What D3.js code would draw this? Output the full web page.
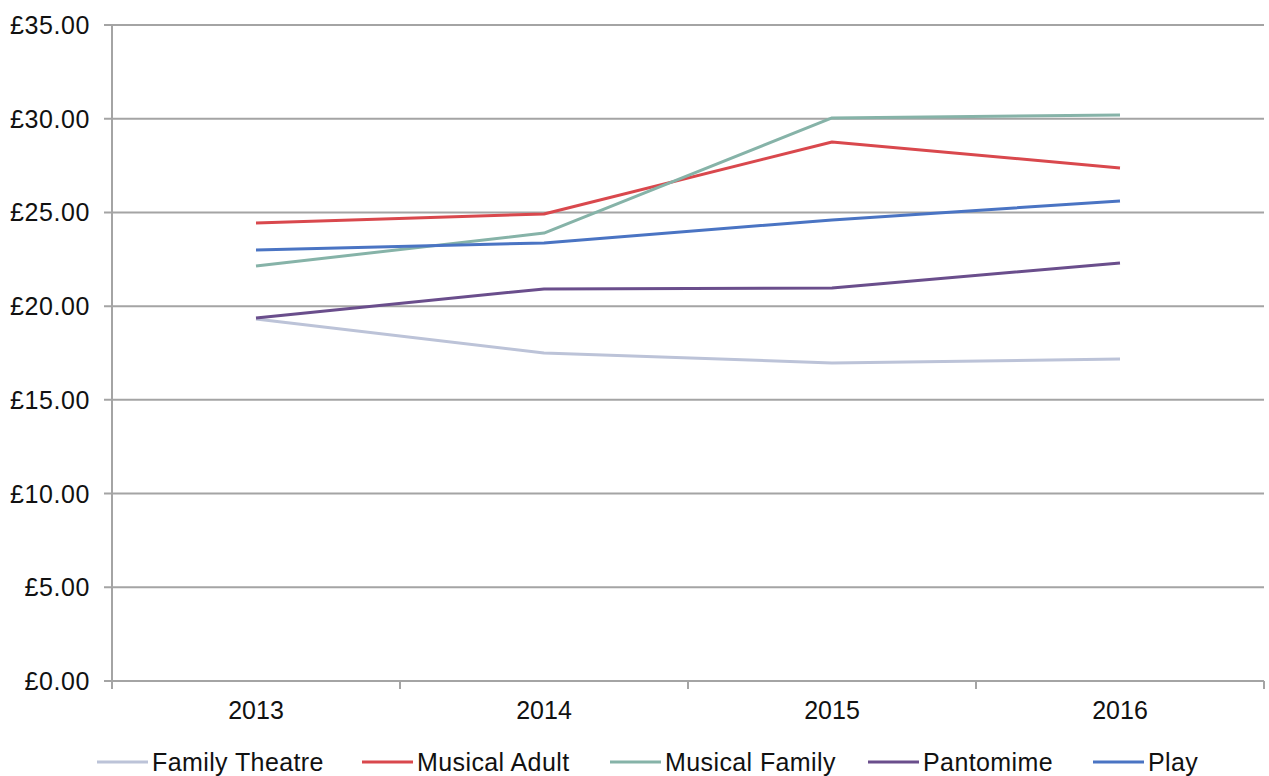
<!DOCTYPE html>
<html><head><meta charset="utf-8">
<script src="https://cdn.jsdelivr.net/npm/d3@7"></script>
<style>body{margin:0;background:#fff}svg{display:block}text{font-family:"Liberation Sans",Arial,sans-serif;fill:#111}</style>
</head><body><svg id="c" width="1269" height="776"></svg>
<script>
const years = ["2013","2014","2015","2016"];
const seriesNames = ["Family Theatre","Musical Adult","Musical Family","Pantomime","Play"];
const familyTheatre = [19.32, 17.5, 16.97, 17.18];
const musicalAdult = [24.44, 24.92, 28.76, 27.37];
const musicalFamily = [22.14, 23.9, 30.04, 30.2];
const pantomime = [19.37, 20.92, 20.97, 22.3];
const play = [23.0, 23.37, 24.6, 25.61];
const yTicks = [0,5,10,15,20,25,30,35];
const colors = ["#bcc3d8","#d9484d","#86b3a8","#6a4e8c","#4a74c3"];
const seriesValues = [familyTheatre, musicalAdult, musicalFamily, pantomime, play];

const svg = d3.select("#c");
const L=112, R=1264, T=25, B=681;
const x = d3.scaleBand().domain(years).range([L,R]);
const y = d3.scaleLinear().domain([0,35]).range([B,T]);
const fmt = v => "£" + v.toFixed(2);

svg.append("g").selectAll("line").data(yTicks).join("line")
  .attr("x1",L-8).attr("x2",R).attr("y1",d=>y(d)).attr("y2",d=>y(d))
  .attr("stroke","#a4a4a4").attr("stroke-width",2);
svg.append("line").attr("x1",L).attr("x2",L).attr("y1",T).attr("y2",B+8)
  .attr("stroke","#a4a4a4").attr("stroke-width",2);
const xt = [L, ...years.map(d=>x(d)+x.bandwidth())];
svg.append("g").selectAll("line").data(xt).join("line")
  .attr("x1",d=>d).attr("x2",d=>d).attr("y1",B).attr("y2",B+8)
  .attr("stroke","#a4a4a4").attr("stroke-width",2);
svg.append("g").selectAll("text").data(yTicks).join("text")
  .attr("x",90).attr("y",d=>y(d)).attr("dy","0.36em").attr("text-anchor","end")
  .attr("font-size",25).attr("letter-spacing",0.6).text(fmt);
svg.append("g").selectAll("text").data(years).join("text")
  .attr("x",d=>x(d)+x.bandwidth()/2).attr("y",710).attr("dy","0.36em").attr("text-anchor","middle")
  .attr("font-size",25).text(d=>d);

const line = d3.line().x((d,i)=>x(years[i])+x.bandwidth()/2).y(d=>y(d));
seriesValues.forEach((vals,k)=>{
  svg.append("path").datum(vals).attr("d",line).attr("fill","none")
    .attr("stroke",colors[k]).attr("stroke-width",3).attr("stroke-linejoin","round");
});

const legX = [97, 362, 610, 868, 1093];
const lg = svg.append("g").selectAll("g").data(seriesNames).join("g")
  .attr("transform",(d,i)=>`translate(${legX[i]},762)`);
lg.append("line").attr("x1",0).attr("x2",51).attr("stroke",(d,i)=>colors[i]).attr("stroke-width",3);
lg.append("text").attr("x",55).attr("dy","0.36em").attr("font-size",25).attr("letter-spacing",0.4).text(d=>d);
</script></body></html>
